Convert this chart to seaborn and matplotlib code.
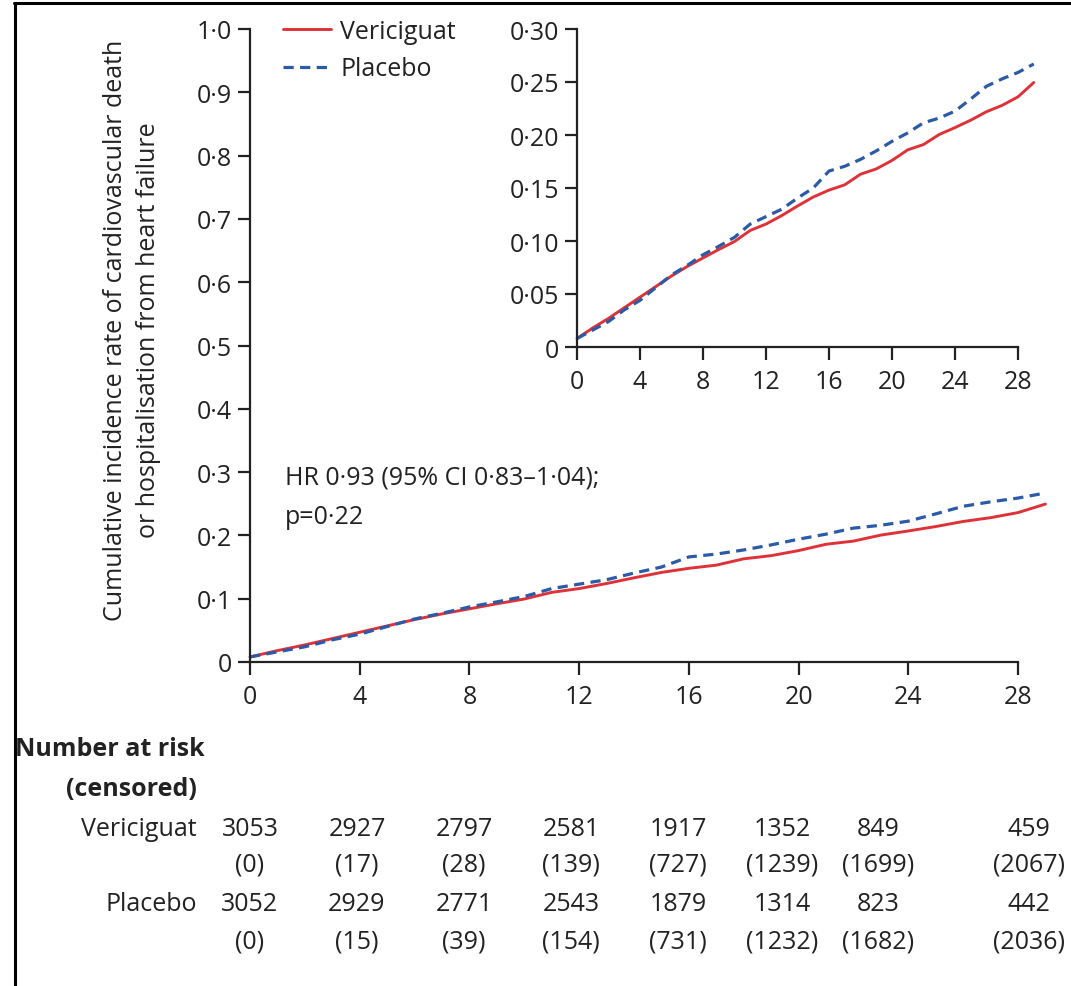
import matplotlib
matplotlib.use("Agg")
import matplotlib.pyplot as plt
import matplotlib.transforms as mtransforms
from matplotlib.lines import Line2D
import pandas as pd
import seaborn as sns

# ---------------- data ----------------
months = list(range(0, 30))
vericiguat = [0.008, 0.018, 0.027, 0.037, 0.047, 0.057, 0.067, 0.076, 0.084, 0.092,
              0.0995, 0.110, 0.116, 0.124, 0.133, 0.1415, 0.148, 0.153, 0.163, 0.168,
              0.176, 0.186, 0.191, 0.2005, 0.207, 0.214, 0.222, 0.228, 0.236, 0.2495]
placebo = [0.008, 0.016, 0.024, 0.035, 0.044, 0.056, 0.068, 0.077, 0.087, 0.095,
           0.1035, 0.116, 0.123, 0.130, 0.1405, 0.150, 0.166, 0.1705, 0.177, 0.185,
           0.194, 0.202, 0.2115, 0.216, 0.2225, 0.234, 0.246, 0.253, 0.259, 0.267]

x_ticks = [0, 4, 8, 12, 16, 20, 24, 28]
main_yticks = [0, 0.1, 0.2, 0.3, 0.4, 0.5, 0.6, 0.7, 0.8, 0.9, 1.0]
main_ylabels = ["0", "0·1", "0·2", "0·3", "0·4", "0·5", "0·6", "0·7", "0·8", "0·9", "1·0"]
inset_yticks = [0, 0.05, 0.10, 0.15, 0.20, 0.25, 0.30]
inset_ylabels = ["0", "0·05", "0·10", "0·15", "0·20", "0·25", "0·30"]

risk_groups = ["Vericiguat", "Placebo"]
risk_vericiguat = [3053, 2927, 2797, 2581, 1917, 1352, 849, 459]
cens_vericiguat = [0, 17, 28, 139, 727, 1239, 1699, 2067]
risk_placebo = [3052, 2929, 2771, 2543, 1879, 1314, 823, 442]
cens_placebo = [0, 15, 39, 154, 731, 1232, 1682, 2036]

hr_text = "HR 0·93 (95% CI 0·83–1·04);\np=0·22"
ylabel_text = "Cumulative incidence rate of cardiovascular death\nor hospitalisation from heart failure"

df = pd.DataFrame({
    "month": months * 2,
    "rate": vericiguat + placebo,
    "group": ["Vericiguat"] * len(months) + ["Placebo"] * len(months),
})

# ---------------- style ----------------
sns.set_theme(style="white")
plt.rcParams["font.family"] = ["Open Sans", "DejaVu Sans"]
TXT = "#222222"
RED = "#de3238"
BLUE = "#2b5aa6"
FS = 18

W, H = 1071, 987
fig = plt.figure(figsize=(W / 100, H / 100), dpi=100)


def px_axes(x0, x28, y0, ytop, xmax=29.2):
    unit = (x28 - x0) / 28.0
    return [x0 / W, (H - y0) / H, unit * xmax / W, (y0 - ytop) / H]


ax = fig.add_axes(px_axes(250, 1018, 663, 30))
axi = fig.add_axes(px_axes(577, 1018, 348, 30))

DASH = (0, (3.2, 2.0))


def draw(a):
    sns.lineplot(data=df[df.group == "Vericiguat"], x="month", y="rate", ax=a,
                 color=RED, lw=2.1, clip_on=False, legend=False)
    sns.lineplot(data=df[df.group == "Placebo"], x="month", y="rate", ax=a,
                 color=BLUE, lw=2.3, linestyle=DASH, clip_on=False, legend=False)


draw(ax)
draw(axi)

for a, yt, yl, ymax in [(ax, main_yticks, main_ylabels, 1.0),
                        (axi, inset_yticks, inset_ylabels, 0.30)]:
    a.set_xlim(0, 29.2)
    a.set_ylim(0, ymax)
    a.set_xticks(x_ticks)
    a.set_xticklabels([str(t) for t in x_ticks])
    a.set_yticks(yt)
    a.set_yticklabels(yl)
    a.set_xlabel("")
    a.set_ylabel("")
    a.patch.set_alpha(0)
    for s in ["top", "right"]:
        a.spines[s].set_visible(False)
    for s in ["left", "bottom"]:
        a.spines[s].set_linewidth(1.6)
        a.spines[s].set_color(TXT)
    a.spines["bottom"].set_bounds(0, 28)
    a.tick_params(axis="both", direction="out", length=9, width=1.6,
                  colors=TXT, labelsize=FS, left=True, bottom=True)
    a.tick_params(axis="y", pad=4)
    a.tick_params(axis="x", pad=7)

# legend
handles = [Line2D([], [], color=RED, lw=2.1),
           Line2D([], [], color=BLUE, lw=2.3, linestyle=DASH)]
fig.legend(handles, risk_groups, loc="upper left",
           bbox_to_anchor=(283 / W, 1 - 20 / H), frameon=False,
           fontsize=FS, handlelength=1.9, handletextpad=0.4,
           labelspacing=0.5, borderpad=0, borderaxespad=0, labelcolor=TXT)

# HR annotation
ax.text(1.27, 0.312, hr_text, fontsize=FS, color=TXT, va="top", ha="left",
        linespacing=1.75)

# y label
fig.text(132 / W, 1 - 330 / H, ylabel_text, rotation=90, ha="center", va="center",
         multialignment="center", fontsize=FS, color=TXT, linespacing=1.45)

# number at risk table
trans = mtransforms.blended_transform_factory(ax.transData, fig.transFigure)
col_x = [0, 3.9, 7.8, 11.7, 15.6, 19.4, 22.9, 28.4]
row_y = [830, 865, 905, 942]
fig.text(15 / W, 1 - 750 / H, "Number at risk", fontsize=FS, fontweight="bold",
         color=TXT, ha="left", va="center")
fig.text(197 / W, 1 - 790 / H, "(censored)", fontsize=FS, fontweight="bold",
         color=TXT, ha="right", va="center")
rows = [(risk_groups[0], risk_vericiguat, cens_vericiguat),
        (risk_groups[1], risk_placebo, cens_placebo)]
for i, (name, risk, cens) in enumerate(rows):
    yr = 1 - row_y[2 * i] / H
    yc = 1 - row_y[2 * i + 1] / H
    fig.text(197 / W, yr, name, fontsize=FS, color=TXT, ha="right", va="center")
    for cx, r, c in zip(col_x, risk, cens):
        fig.text(cx, yr, str(r), transform=trans, fontsize=FS, color=TXT,
                 ha="center", va="center")
        fig.text(cx, yc, f"({c})", transform=trans, fontsize=FS, color=TXT,
                 ha="center", va="center")

# frame lines
fig.add_artist(Line2D([14.5 / W, 14.5 / W], [0, 1 - 3.5 / H],
                      transform=fig.transFigure, color="black", lw=2.2))
fig.add_artist(Line2D([13.5 / W, 1], [1 - 3.5 / H, 1 - 3.5 / H],
                      transform=fig.transFigure, color="black", lw=2.2))

fig.savefig("out.png", dpi=100)
